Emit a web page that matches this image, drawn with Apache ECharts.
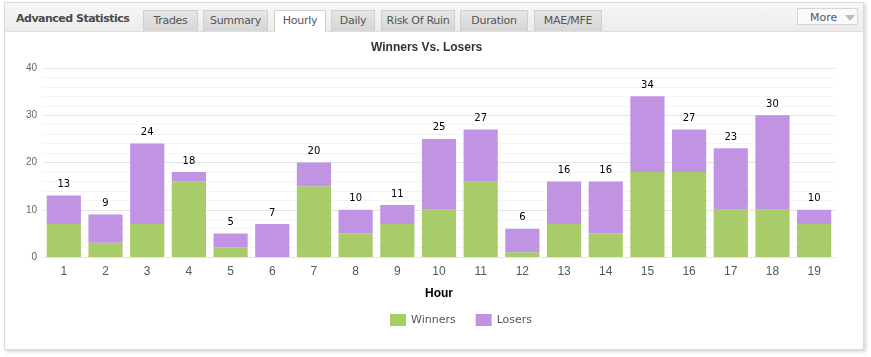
<!DOCTYPE html>
<html><head><meta charset="utf-8">
<script src="https://cdn.jsdelivr.net/npm/echarts@6/dist/echarts.min.js"></script>
<style>
html,body{margin:0;padding:0;width:871px;height:357px;background:#fff;overflow:hidden;font-family:Verdana,"DejaVu Sans",sans-serif;}
#panel{position:absolute;left:4px;top:2px;width:858px;height:346px;border:1px solid #dadada;box-shadow:2px 2px 3px #d8d8d8;background:#fff;}
#hdr{position:absolute;left:0;top:0;width:858px;height:28px;background:linear-gradient(#f7f7f7,#ececec);border-bottom:1px solid #dedede;}
#ttl{position:absolute;left:11px;top:9px;font-weight:bold;font-size:11px;color:#4a4a4a;letter-spacing:-0.5px;}
.tab{position:absolute;top:7px;height:21px;background:linear-gradient(#e6e6e6,#d6d6d6);border:1px solid #d0d0d0;border-bottom:none;font-size:11px;color:#555;text-align:center;line-height:20px;box-sizing:border-box;letter-spacing:-0.3px;}
.tab.act{background:#fff;height:22px;}
#more{position:absolute;left:792px;top:5px;width:61px;height:17px;border:1px solid #d6d6d6;background:#fafafa;font-size:11px;color:#555;line-height:17px;box-sizing:border-box;padding-left:12px;}
#more span{position:absolute;left:47px;top:6px;width:0;height:0;border-left:5px solid transparent;border-right:5px solid transparent;border-top:6px solid #bbb;}
#chart{position:absolute;left:0;top:0;width:871px;height:357px;}
</style></head>
<body>
<div id="panel"><div id="hdr">
<div id="ttl">Advanced Statistics</div>
<div class="tab" style="left:138px;width:55px">Trades</div>
<div class="tab" style="left:198px;width:65px">Summary</div>
<div class="tab act" style="left:269px;width:52px">Hourly</div>
<div class="tab" style="left:326px;width:44px">Daily</div>
<div class="tab" style="left:376px;width:74px">Risk Of Ruin</div>
<div class="tab" style="left:455px;width:68px">Duration</div>
<div class="tab" style="left:529px;width:68px">MAE/MFE</div>
<div id="more">More<span></span></div>
</div></div>
<div id="chart"></div>
<script>
const hours = ['1','2','3','4','5','6','7','8','9','10','11','12','13','14','15','16','17','18','19'];
const winners = [7,3,7,16,2,0,15,5,7,10,16,1,7,5,18,18,10,10,7];
const losers  = [6,6,17,2,3,7,5,5,4,15,11,5,9,11,16,9,13,20,3];
const yTicks = [0,10,20,30,40];

const totals = winners.map((w,i)=>w+losers[i]);
const chart = echarts.init(document.getElementById('chart'));
chart.setOption({
  animation:false,
  title:{text:'Winners Vs. Losers',left:366,top:37,textStyle:{fontSize:12,fontWeight:'bold',color:'#333',fontFamily:'Arial, Liberation Sans, sans-serif'}},
  grid:{left:43,right:36,top:68,bottom:100},
  legend:{bottom:26,left:385,itemWidth:16,itemHeight:12,itemGap:20,icon:'rect',
    textStyle:{fontSize:11,color:'#555',fontFamily:'Verdana, DejaVu Sans, sans-serif'},data:['Winners','Losers']},
  xAxis:{type:'category',data:hours,axisLine:{show:false},axisTick:{show:false},
    axisLabel:{fontSize:12,color:'#4d5766',margin:9,fontFamily:'Arial, Liberation Sans, sans-serif'},
    name:'Hour',nameLocation:'middle',nameGap:31,nameTextStyle:{fontSize:12,fontWeight:'bold',color:'#000',fontFamily:'Arial, Liberation Sans, sans-serif'}},
  yAxis:{type:'value',min:yTicks[0],max:yTicks[yTicks.length-1],interval:10,
    axisLine:{show:false},axisTick:{show:false},
    axisLabel:{fontSize:10,color:'#666',margin:6,fontFamily:'Arial, Liberation Sans, sans-serif'},
    splitLine:{lineStyle:{color:'#e4e4e4'}},
    minorTick:{show:false,splitNumber:5},
    minorSplitLine:{show:true,lineStyle:{color:'#f5f5f5'}}},
  series:[
    {name:'Winners',type:'bar',stack:'a',data:winners,barCategoryGap:'18%',itemStyle:{color:'#a9cc6a'}},
    {name:'Losers',type:'bar',stack:'a',data:losers,itemStyle:{color:'#c194e3'},
      label:{show:true,position:'top',distance:6,fontSize:10,color:'#000',fontFamily:'Verdana, DejaVu Sans, sans-serif',
        formatter:p=>String(totals[p.dataIndex])}}
  ]
});
</script>
</body></html>
